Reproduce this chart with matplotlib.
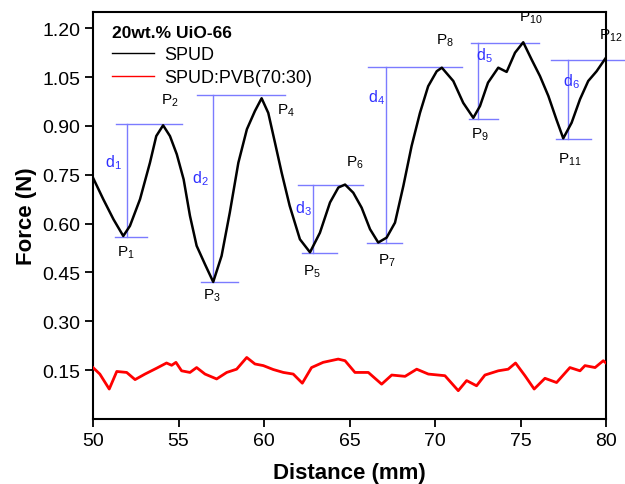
import matplotlib
matplotlib.use("Agg")
import matplotlib.pyplot as plt

plt.rcParams['font.family'] = ['Liberation Sans', 'DejaVu Sans']
plt.rcParams['mathtext.fontset'] = 'custom'
plt.rcParams['mathtext.rm'] = 'Liberation Sans'
plt.rcParams['mathtext.it'] = 'Liberation Sans:italic'
plt.rcParams['mathtext.bf'] = 'Liberation Sans:bold'

# SPUD (black) curve
spud_x = [50.0, 50.6, 51.2, 51.77, 52.16, 52.75, 53.33, 53.7, 54.1, 54.5, 54.9, 55.3,
          55.67, 56.06, 56.55, 57.03, 57.52, 58.0, 58.5, 59.0, 59.47, 59.86, 60.25,
          60.64, 61.03, 61.5, 62.1, 62.69, 63.27, 63.86, 64.35, 64.74, 65.22, 65.71,
          66.2, 66.68, 67.17, 67.66, 68.15, 68.63, 69.12, 69.6, 70.1, 70.4, 71.07,
          71.65, 72.24, 72.63, 73.1, 73.7, 74.19, 74.68, 75.16, 75.65, 76.14, 76.63,
          77.1, 77.5, 77.99, 78.48, 78.96, 79.45, 80.0]
spud_y = [0.741, 0.675, 0.613, 0.562, 0.593, 0.675, 0.787, 0.869, 0.902, 0.869, 0.813, 0.736,
          0.624, 0.532, 0.475, 0.421, 0.501, 0.634, 0.787, 0.89, 0.946, 0.985, 0.94,
          0.849, 0.757, 0.655, 0.552, 0.512, 0.572, 0.665, 0.711, 0.72, 0.695, 0.649,
          0.583, 0.542, 0.557, 0.603, 0.716, 0.838, 0.94, 1.022, 1.068, 1.079, 1.038,
          0.971, 0.925, 0.961, 1.033, 1.079, 1.066, 1.125, 1.157, 1.104, 1.053, 0.992,
          0.92, 0.862, 0.91, 0.982, 1.038, 1.068, 1.11]

# SPUD:PVB(70:30) (red) curve
pvb_x = [50.0, 50.4, 50.95, 51.39, 51.97, 52.46, 53.04, 53.72, 54.3, 54.6, 54.85, 55.18,
         55.67, 56.06, 56.55, 57.23, 57.82, 58.4, 58.99, 59.47, 59.96, 60.54, 61.13,
         61.71, 62.24, 62.78, 63.46, 64.34, 64.74, 65.32, 66.1, 66.88, 67.47, 68.25,
         68.93, 69.61, 70.58, 71.36, 71.85, 72.43, 72.92, 73.7, 74.28, 74.71, 75.26,
         75.8, 76.43, 77.11, 77.89, 78.48, 78.77, 79.36, 79.84, 80.0]
pvb_y = [0.158, 0.138, 0.092, 0.146, 0.143, 0.121, 0.138, 0.156, 0.172, 0.165, 0.174, 0.148,
         0.143, 0.158, 0.138, 0.123, 0.143, 0.153, 0.189, 0.169, 0.164, 0.152, 0.143,
         0.138, 0.11, 0.158, 0.174, 0.184, 0.179, 0.143, 0.143, 0.107, 0.135, 0.131,
         0.153, 0.138, 0.133, 0.087, 0.118, 0.102, 0.135, 0.148, 0.153, 0.172, 0.133,
         0.092, 0.125, 0.112, 0.158, 0.148, 0.164, 0.158, 0.179, 0.172]

# peak / valley labels: (x, y, label)
p_labels = [(51.95, 0.515, '1'), (54.5, 0.98, '2'), (56.95, 0.38, '3'), (61.3, 0.95, '4'),
            (62.8, 0.455, '5'), (65.3, 0.79, '6'), (67.2, 0.49, '7'), (70.6, 1.165, '8'),
            (72.6, 0.875, '9'), (75.6, 1.235, '10'), (77.9, 0.8, '11'), (80.3, 1.18, '12')]

# distance markers: vertical x, low y, high y, low-line x-range, high-line x-range
d_x = [52.0, 57.0, 62.87, 67.13, 72.5, 77.8]
d_low = [0.56, 0.42, 0.51, 0.54, 0.922, 0.86]
d_high = [0.906, 0.995, 0.72, 1.08, 1.155, 1.102]
d_low_rng = [(51.3, 53.15), (56.3, 58.5), (62.2, 64.25), (66.0, 68.06), (72.0, 73.7), (77.1, 79.1)]
d_high_rng = [(51.35, 55.2), (56.1, 61.2), (62.0, 65.8), (66.1, 71.6), (72.1, 76.1), (76.8, 81.1)]
d_lbl_pos = [(51.2, 0.79), (56.3, 0.74), (62.3, 0.65), (66.55, 0.99), (72.9, 1.12), (77.95, 1.04)]

fig = plt.figure(figsize=(6.25, 4.85), dpi=100)
ax = fig.add_axes([93/625, 1 - 420/485, 513/625, 407/485])

blue_line = '#7b7bff'
blue_text = '#2f2fff'
for i in range(len(d_x)):
    ax.plot([d_x[i], d_x[i]], [d_low[i], d_high[i]], color=blue_line, lw=1.0, zorder=1)
    ax.plot(list(d_low_rng[i]), [d_low[i], d_low[i]], color=blue_line, lw=1.0, zorder=1)
    ax.plot(list(d_high_rng[i]), [d_high[i], d_high[i]], color=blue_line, lw=1.0, zorder=1,
            clip_on=False)
    ax.text(d_lbl_pos[i][0], d_lbl_pos[i][1], r'd$_\mathregular{%d}$' % (i + 1),
            color=blue_text, fontsize=11.5, ha='center', va='center')

ax.plot(spud_x, spud_y, color='black', lw=1.8, label='SPUD', zorder=3)
ax.plot(pvb_x, pvb_y, color='red', lw=2.0, label='SPUD:PVB(70:30)', zorder=3)

for x, y, s in p_labels:
    ax.text(x, y, r'P$_\mathregular{%s}$' % s, fontsize=11, ha='center', va='center',
            clip_on=False)

ax.set_xlim(50, 80)
ax.set_ylim(0, 1.25)
ax.set_xticks([50, 55, 60, 65, 70, 75, 80])
ax.set_yticks([0.15, 0.30, 0.45, 0.60, 0.75, 0.90, 1.05, 1.20])
ax.set_yticklabels(['%.2f' % v for v in [0.15, 0.30, 0.45, 0.60, 0.75, 0.90, 1.05, 1.20]])
ax.tick_params(direction='out', length=6, width=1.3, labelsize=14, pad=3)
for sp in ax.spines.values():
    sp.set_linewidth(1.5)

ax.set_xlabel('Distance (mm)', fontsize=16, fontweight='bold', labelpad=10)
ax.set_ylabel('Force (N)', fontsize=16, fontweight='bold', labelpad=4)

leg = ax.legend(loc='upper left', bbox_to_anchor=(0.03, 0.978), frameon=False,
                fontsize=13, title='20wt.% UiO-66', alignment='left',
                title_fontproperties={'weight': 'bold', 'size': 12.5},
                handlelength=2.3, handletextpad=0.6, labelspacing=0.35,
                borderpad=0.2, borderaxespad=0)
for lh in leg.get_lines():
    lh.set_linewidth(1.0)

fig.savefig('out.png', dpi=100)
